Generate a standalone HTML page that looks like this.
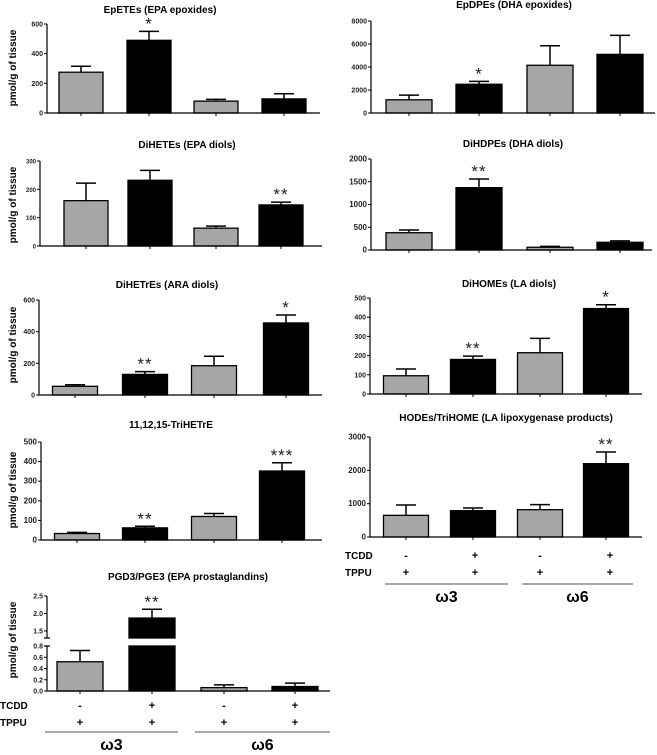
<!DOCTYPE html>
<html><head><meta charset="utf-8">
<style>
html,body{margin:0;padding:0;background:#fff;}
svg{display:block;font-family:"Liberation Sans",Arial,sans-serif;}
</style></head>
<body>
<svg id="fig" width="657" height="755" viewBox="0 0 657 755" xmlns="http://www.w3.org/2000/svg"></svg>
<script>
// ---- data (one set per panel) ----
const groups = ["w3 TPPU", "w3 TCDD+TPPU", "w6 TPPU", "w6 TCDD+TPPU"];
const epeteMeans = [275, 490, 80, 95];
const epeteErr = [40, 60, 12, 35];
const epeteStars = ["", "*", "", ""];
const epeteTicks = [0, 200, 400, 600];
const dihMeans = [160, 232, 63, 145];
const dihErr = [62, 35, 7, 10];
const dihStars = ["", "", "", "**"];
const dihTicks = [0, 100, 200, 300];
const aradMeans = [55, 130, 185, 455];
const aradErr = [10, 18, 60, 50];
const aradStars = ["", "**", "", "*"];
const aradTicks = [0, 200, 400, 600];
const triMeans = [33, 62, 120, 352];
const triErr = [6, 8, 15, 42];
const triStars = ["", "**", "", "***"];
const triTicks = [0, 100, 200, 300, 400, 500];
const pgMeans = [0.52, 1.87, 0.06, 0.08];
const pgErr = [0.2, 0.25, 0.05, 0.06];
const pgStars = ["", "**", "", ""];
const pgTicksLow = [0.0, 0.2, 0.4, 0.6, 0.8];
const pgTicksHigh = [1.5, 2.0, 2.5];
const epdpeMeans = [1150, 2500, 4150, 5100];
const epdpeErr = [400, 250, 1700, 1650];
const epdpeStars = ["", "*", "", ""];
const epdpeTicks = [0, 2000, 4000, 6000, 8000];
const dhdMeans = [380, 1370, 60, 170];
const dhdErr = [60, 190, 20, 30];
const dhdStars = ["", "**", "", ""];
const dhdTicks = [0, 500, 1000, 1500, 2000];
const laMeans = [95, 180, 215, 445];
const laErr = [35, 17, 75, 20];
const laStars = ["", "**", "", "*"];
const laTicks = [0, 100, 200, 300, 400, 500];
const hodeMeans = [650, 790, 820, 2200];
const hodeErr = [310, 80, 150, 350];
const hodeStars = ["", "", "", "**"];
const hodeTicks = [0, 1000, 2000, 3000];
const tcddRow = ["-", "+", "-", "+"];
const tppuRow = ["+", "+", "+", "+"];

const NS = "http://www.w3.org/2000/svg";
const svg = document.getElementById("fig");
function mk(tag, attrs, parent, text) {
  const e = document.createElementNS(NS, tag);
  for (const k in attrs) e.setAttribute(k, attrs[k]);
  if (text !== undefined) e.textContent = text;
  (parent || svg).appendChild(e);
  return e;
}
const FILLS = ["#a6a6a6", "#000", "#a6a6a6", "#000"];
const STAR_OFF = 2;

function panel(name, title, L, means, errs, stars, ticks) {
  const g = mk("g", {});
  
  
  const ymax = ticks[ticks.length - 1];
  const y = v => L.y0 - (v / ymax) * (L.y0 - L.yTop);
  const t = mk("text", {x: L.tx, y: L.ty, "font-size": 10, "font-weight": "bold", "text-anchor": "middle"}, g, title);
  
  
  means.forEach((m, i) => {
    const cx = L.cx[i];
    const r = mk("rect", {x: cx - L.bw / 2, y: y(m), width: L.bw, height: L.y0 - y(m), fill: FILLS[i], stroke: "#000", "stroke-width": 1.3}, g);
    
    
    const et = y(m + errs[i]);
    const el = mk("path", {d: `M${cx},${y(m)}V${et}M${cx - 10},${et}H${cx + 10}`, stroke: "#000", "stroke-width": 1.5, fill: "none"}, g);
    
    
    if (stars[i]) {
      const s = mk("text", {x: cx, y: et - STAR_OFF, "font-size": 17, "text-anchor": "middle", fill: "#222", "letter-spacing": "1"}, g, stars[i]);
      
      
    }
  });
  const ax = mk("path", {d: `M${L.ax},${L.yTop}V${L.y0}H${L.xEnd}`, stroke: "#000", "stroke-width": 1.2, fill: "none"}, g);
  
  
  L.cx.forEach(cx => mk("line", {x1: cx, x2: cx, y1: L.y0, y2: L.y0 + 3, stroke: "#000"}, g));
  ticks.forEach(v => {
    mk("line", {x1: L.ax - 3, x2: L.ax, y1: y(v), y2: y(v), stroke: "#000"}, g);
    const tl = mk("text", {x: L.ax - 4, y: y(v) + 2.5, "font-size": L.fs || 7, "font-weight": "bold", "text-anchor": "end", fill: "#222"}, g, String(v));
    
    
  });
  if (L.ylab) ylabel(L.ylab);
}
function ylabel(cy) {
  const t = mk("text", {x: 0, y: 0, transform: `translate(16,${cy}) rotate(-90)`, "font-size": 10, "font-weight": "bold", "text-anchor": "middle"}, svg, "pmol/g of tissue");
  
  
}
function treatRows(L) {
  const g = mk("g", {});
  
  
  mk("text", {x: L.lx, y: L.ty, "font-size": 10, "font-weight": "bold"}, g, "TCDD");
  mk("text", {x: L.lx, y: L.ty + 17, "font-size": 10, "font-weight": "bold"}, g, "TPPU");
  L.sx.forEach((x, i) => {
    mk("text", {x: x, y: L.ty, "font-size": 11, "font-weight": "bold", "text-anchor": "middle"}, g, tcddRow[i]);
    mk("text", {x: x, y: L.ty + 17, "font-size": 11, "font-weight": "bold", "text-anchor": "middle"}, g, tppuRow[i]);
  });
  mk("line", {x1: L.l1[0], x2: L.l1[1], y1: L.ly, y2: L.ly, stroke: "#555", "stroke-width": 1}, g);
  mk("line", {x1: L.l2[0], x2: L.l2[1], y1: L.ly, y2: L.ly, stroke: "#555", "stroke-width": 1}, g);
  mk("text", {x: (L.l1[0] + L.l1[1]) / 2, y: L.ly + 18, "font-size": 16, "font-weight": "bold", "text-anchor": "middle"}, g, "ω3");
  mk("text", {x: (L.l2[0] + L.l2[1]) / 2, y: L.ly + 18, "font-size": 16, "font-weight": "bold", "text-anchor": "middle"}, g, "ω6");
}

panel("epetes-chart", "EpETEs (EPA epoxides)", {ax: 47, y0: 113, yTop: 24, xEnd: 320, cx: [81, 149, 216, 284], bw: 44, tx: 160, ty: 13, ylab: 68}, epeteMeans, epeteErr, epeteStars, epeteTicks);
panel("dihetes-chart", "DiHETEs (EPA diols)", {ax: 40, y0: 246, yTop: 161, xEnd: 322, cx: [86, 150, 216, 281], bw: 44, tx: 187, ty: 148, ylab: 205, fs: 6}, dihMeans, dihErr, dihStars, dihTicks);
panel("dihetres-chart", "DiHETrEs (ARA diols)", {ax: 39, y0: 395, yTop: 300, xEnd: 322, cx: [75, 145, 214, 286], bw: 45, tx: 167, ty: 288, ylab: 345}, aradMeans, aradErr, aradStars, aradTicks);
panel("trihetre-chart", "11,12,15-TriHETrE", {ax: 41, y0: 540, yTop: 442, xEnd: 322, cx: [77, 145, 214, 282], bw: 45, tx: 171, ty: 428, ylab: 490, fs: 8}, triMeans, triErr, triStars, triTicks);

panel("epdpes-chart", "EpDPEs (DHA epoxides)", {ax: 371, y0: 113, yTop: 21, xEnd: 655, cx: [409, 479, 550, 620], bw: 46, tx: 514, ty: 8}, epdpeMeans, epdpeErr, epdpeStars, epdpeTicks);
panel("dihdpes-chart", "DiHDPEs (DHA diols)", {ax: 371, y0: 250, yTop: 159, xEnd: 652, cx: [409, 479, 550, 620], bw: 46, tx: 513, ty: 147, fs: 8}, dhdMeans, dhdErr, dhdStars, dhdTicks);
panel("dihomes-chart", "DiHOMEs (LA diols)", {ax: 370, y0: 394, yTop: 298, xEnd: 642, cx: [406, 473, 540, 606], bw: 45, tx: 509, ty: 287}, laMeans, laErr, laStars, laTicks);
panel("hodes-chart", "HODEs/TriHOME (LA lipoxygenase products)", {ax: 370, y0: 537, yTop: 437, xEnd: 642, cx: [406, 473, 540, 606], bw: 45, tx: 506, ty: 421, fs: 8}, hodeMeans, hodeErr, hodeStars, hodeTicks);
treatRows({lx: 345, ty: 559, sx: [406, 475, 540, 610], ly: 584, l1: [385, 508], l2: [522, 633]});

(function () {
  const g = mk("g", {});
  
  
  const ax = 47, y0 = 691, yLowTop = 646, yBreakLow = 646, yBreakHigh = 638, xEnd = 330;
  const cx = [80, 152, 224, 295], bw = 46;
  const lowMax = pgTicksLow[pgTicksLow.length - 1];
  const highMin = 1.3, highMax = pgTicksHigh[pgTicksHigh.length - 1], yHighTop = 596;
  const y = v => v <= lowMax ? y0 - v / lowMax * (y0 - yLowTop)
                             : yBreakHigh - (v - highMin) / (highMax - highMin) * (yBreakHigh - yHighTop);
  mk("text", {x: 188, y: 580, "font-size": 10, "font-weight": "bold", "text-anchor": "middle"}, g, "PGD3/PGE3 (EPA prostaglandins)");
  pgMeans.forEach((m, i) => {
    const c = cx[i];
    if (m <= lowMax) {
      const r = mk("rect", {x: c - bw / 2, y: y(m), width: bw, height: y0 - y(m), fill: FILLS[i], stroke: "#000", "stroke-width": 1.3}, g);
      
      
    } else {
      const r1 = mk("rect", {x: c - bw / 2, y: y(m), width: bw, height: yBreakHigh - y(m), fill: FILLS[i], stroke: "#000", "stroke-width": 1.3}, g);
      
      
      const r2 = mk("rect", {x: c - bw / 2, y: yBreakLow, width: bw, height: y0 - yBreakLow, fill: FILLS[i], stroke: "#000", "stroke-width": 1.3}, g);
      
      
    }
    const et = y(m + pgErr[i]);
    mk("path", {d: `M${c},${y(m)}V${et}M${c - 10},${et}H${c + 10}`, stroke: "#000", "stroke-width": 1.5, fill: "none"}, g);
    if (pgStars[i]) mk("text", {x: c, y: et - STAR_OFF, "font-size": 17, "text-anchor": "middle", fill: "#222", "letter-spacing": "1"}, g, pgStars[i]);
  });
  mk("path", {d: `M${ax},${yHighTop}V${yBreakHigh}M${ax},${yBreakLow}V${y0}H${xEnd}M${ax - 3},${yBreakHigh}H${ax + 3}M${ax - 3},${yBreakLow}H${ax + 3}`, stroke: "#000", "stroke-width": 1.2, fill: "none"}, g);
  cx.forEach(c => mk("line", {x1: c, x2: c, y1: y0, y2: y0 + 3, stroke: "#000"}, g));
  pgTicksLow.concat(pgTicksHigh).forEach(v => {
    mk("line", {x1: ax - 3, x2: ax, y1: y(v), y2: y(v), stroke: "#000"}, g);
    mk("text", {x: ax - 4, y: y(v) + 2.5, "font-size": 7, "font-weight": "bold", "text-anchor": "end", fill: "#222"}, g, v.toFixed(1));
  });
  ylabel(640);
})();
treatRows({lx: 0, ty: 709, sx: [80, 152, 224, 295], ly: 732, l1: [45, 178], l2: [195, 330]});
</script>
</body></html>
